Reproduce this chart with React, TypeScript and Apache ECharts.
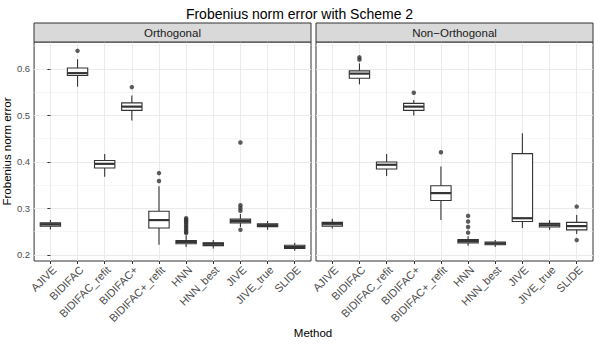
import React, { useEffect, useRef } from "react";
import * as echarts from "echarts";

const categories = ["AJIVE", "BIDIFAC", "BIDIFAC_refit", "BIDIFAC+", "BIDIFAC+_refit", "HNN", "HNN_best", "JIVE", "JIVE_true", "SLIDE"];
const panelTitles = ["Orthogonal", "Non−Orthogonal"];
const yTicks = [0.2, 0.3, 0.4, 0.5, 0.6];
const yMinorTicks = [0.25, 0.35, 0.45, 0.55, 0.65];

// [lower whisker, Q1, median, Q3, upper whisker]
const orthogonalBoxes = [
  [0.255, 0.262, 0.266, 0.269, 0.275],
  [0.562, 0.586, 0.591, 0.602, 0.621],
  [0.368, 0.387, 0.396, 0.403, 0.417],
  [0.489, 0.511, 0.519, 0.527, 0.543],
  [0.222, 0.258, 0.275, 0.294, 0.348],
  [0.217, 0.224, 0.228, 0.231, 0.242],
  [0.214, 0.220, 0.224, 0.226, 0.232],
  [0.260, 0.269, 0.273, 0.277, 0.288],
  [0.254, 0.261, 0.264, 0.267, 0.273],
  [0.209, 0.214, 0.217, 0.221, 0.226],
];
const orthogonalOutliers = [
  [1, 0.639], [3, 0.561], [4, 0.376], [4, 0.359],
  [5, 0.279], [5, 0.276], [5, 0.273], [5, 0.270], [5, 0.266], [5, 0.262], [5, 0.258], [5, 0.254], [5, 0.250], [5, 0.247],
  [7, 0.442], [7, 0.307], [7, 0.301], [7, 0.295], [7, 0.254],
];

const nonOrthogonalBoxes = [
  [0.257, 0.262, 0.267, 0.270, 0.278],
  [0.567, 0.580, 0.590, 0.596, 0.612],
  [0.370, 0.385, 0.394, 0.400, 0.417],
  [0.500, 0.511, 0.519, 0.526, 0.533],
  [0.275, 0.317, 0.333, 0.349, 0.390],
  [0.220, 0.226, 0.230, 0.233, 0.240],
  [0.217, 0.222, 0.225, 0.228, 0.232],
  [0.258, 0.272, 0.279, 0.418, 0.462],
  [0.254, 0.260, 0.264, 0.268, 0.275],
  [0.245, 0.254, 0.262, 0.270, 0.286],
];
const nonOrthogonalOutliers = [
  [1, 0.625], [1, 0.620], [3, 0.549], [4, 0.421],
  [5, 0.284], [5, 0.272], [5, 0.260], [5, 0.248],
  [9, 0.304], [9, 0.232],
];

const FONT = "Liberation Sans, Arial, Helvetica, sans-serif";
const INK = "#333333";

export default function App() {
  const ref = useRef<HTMLDivElement>(null);
  useEffect(() => {
    if (!ref.current) return;
    const chart = echarts.init(ref.current, undefined, { renderer: "svg" });

    const panels = [
      { left: 34, boxes: orthogonalBoxes, outliers: orthogonalOutliers },
      { left: 316, boxes: nonOrthogonalBoxes, outliers: nonOrthogonalOutliers },
    ];
    const panelW = 277;
    const top = 42;
    const height = 219;
    const yMin = 0.187;
    const yMax = 0.658;

    const grids: any[] = [];
    const xAxes: any[] = [];
    const yAxes: any[] = [];
    const series: any[] = [];
    const graphics: any[] = [];

    panels.forEach((p, i) => {
      grids.push({
        left: p.left, top, width: panelW, height,
        show: true, borderColor: INK, borderWidth: 1, backgroundColor: "#ffffff",
      });
      xAxes.push({
        type: "value", gridIndex: i, min: -0.6, max: 9.6,
        axisLine: { show: false },
        axisTick: { show: true, customValues: categories.map((_, k) => k), length: 3, lineStyle: { color: INK, width: 1 } },
        axisLabel: {
          show: true, customValues: categories.map((_, k) => k),
          formatter: (v: number) => categories[Math.round(v)] ?? "",
          rotate: 45, margin: 3, fontSize: 11, color: "#4d4d4d", fontFamily: FONT,
          align: "right", verticalAlign: "top",
        },
        splitLine: { show: true, lineStyle: { color: "#ebebeb", width: 1 } },
      });
      yAxes.push({
        type: "value", gridIndex: i, min: yMin, max: yMax,
        name: i === 0 ? "Frobenius norm error" : "",
        nameLocation: "middle", nameGap: 21, nameRotate: 90,
        nameTextStyle: { fontSize: 11.5, color: "#000000", fontFamily: FONT },
        axisLine: { show: false },
        axisTick: { show: i === 0, customValues: yTicks, length: 3, lineStyle: { color: INK, width: 1 } },
        axisLabel: {
          show: i === 0, customValues: yTicks, formatter: (v: number) => v.toFixed(1),
          fontSize: 9.5, color: "#4d4d4d", fontFamily: FONT, margin: 4,
        },
        splitLine: { show: true, lineStyle: { color: "#ebebeb", width: 1 } },
      });
      yAxes.push({
        type: "value", gridIndex: i, min: yMin, max: yMax, position: "left",
        axisLine: { show: false },
        axisTick: { show: false, customValues: yMinorTicks },
        axisLabel: { show: false, customValues: yMinorTicks },
        splitLine: { show: true, lineStyle: { color: "#f0f0f0", width: 0.6 } },
      });
      const yIdx = i * 2;
      series.push({
        type: "custom", xAxisIndex: i, yAxisIndex: yIdx, z: 3,
        data: p.boxes.map((b, k) => [k, ...b]),
        encode: { x: 0, y: [1, 2, 3, 4, 5] },
        renderItem: (params: any, api: any) => {
          const x = api.value(0);
          const lo = api.coord([x, api.value(1)]);
          const q1 = api.coord([x, api.value(2)]);
          const md = api.coord([x, api.value(3)]);
          const q3 = api.coord([x, api.value(4)]);
          const hi = api.coord([x, api.value(5)]);
          const half = api.size([0.75, 0])[0] / 2;
          const cx = lo[0];
          const st = { stroke: INK, lineWidth: 1.1 };
          return {
            type: "group",
            children: [
              { type: "line", shape: { x1: cx, y1: hi[1], x2: cx, y2: q3[1] }, style: st },
              { type: "line", shape: { x1: cx, y1: q1[1], x2: cx, y2: lo[1] }, style: st },
              { type: "rect", shape: { x: cx - half, y: q3[1], width: half * 2, height: q1[1] - q3[1] }, style: { fill: "#ffffff", ...st } },
              { type: "line", shape: { x1: cx - half, y1: md[1], x2: cx + half, y2: md[1] }, style: { stroke: INK, lineWidth: 2.2 } },
            ],
          };
        },
      });
      series.push({
        type: "scatter", xAxisIndex: i, yAxisIndex: yIdx, z: 4,
        data: p.outliers, symbol: "circle", symbolSize: 4.5,
        itemStyle: { color: INK },
      });
      graphics.push({
        type: "rect", shape: { x: p.left, y: 23, width: panelW, height: 19 },
        style: { fill: "#d9d9d9", stroke: INK, lineWidth: 1 }, z: 10,
      });
      graphics.push({
        type: "text", x: p.left + panelW / 2, y: 32.5, z: 11,
        style: { text: panelTitles[i], fontSize: 11.5, fill: "#1a1a1a", fontFamily: FONT, align: "center", verticalAlign: "middle" },
      });
    });

    graphics.push({
      type: "text", x: 313, y: 333, z: 11,
      style: { text: "Method", fontSize: 11.5, fill: "#000000", fontFamily: FONT, align: "center", verticalAlign: "middle" },
    });

    chart.setOption({
      animation: false,
      backgroundColor: "#ffffff",
      textStyle: { fontFamily: FONT },
      title: {
        text: "Frobenius norm error with Scheme 2", left: "center", top: 2,
        textStyle: { fontSize: 14, fontWeight: "normal", color: "#000000", fontFamily: FONT },
      },
      grid: grids,
      xAxis: xAxes,
      yAxis: yAxes,
      series,
      graphic: graphics,
    });
    return () => chart.dispose();
  }, []);
  return <div ref={ref} style={{ position: "fixed", left: 0, top: 0, width: 599, height: 345 }} />;
}
